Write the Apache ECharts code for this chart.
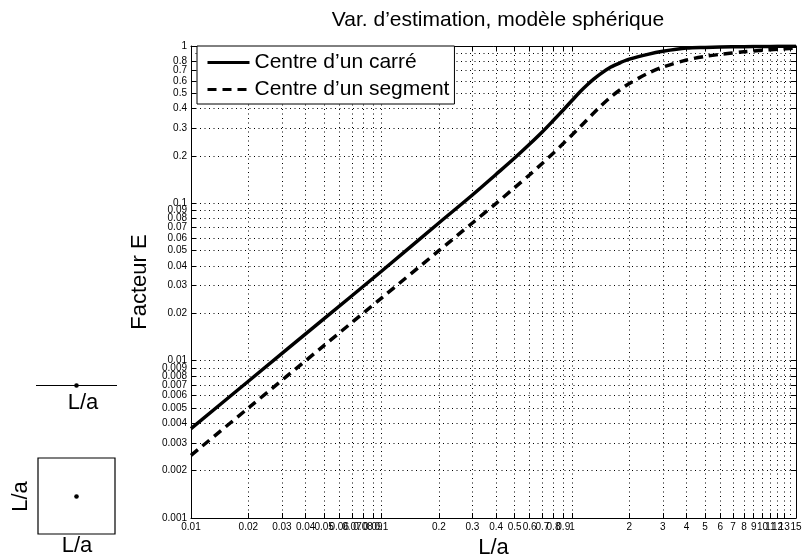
<!DOCTYPE html>
<html>
<head>
<meta charset="utf-8">
<script src="https://cdn.jsdelivr.net/npm/echarts@6/dist/echarts.min.js"></script>
<style>
  html, body { margin: 0; padding: 0; background: #fff; }
  #main { width: 804px; height: 559px; }
</style>
</head>
<body>
<div id="main"></div>
<script>
// valeurs (L/a -> facteur E)
var xVals = [0.01, 0.02, 0.05, 0.1, 0.2, 0.3, 0.4, 0.5, 0.6, 0.7, 0.8, 0.9, 1, 1.1, 1.2, 1.3, 1.4, 1.6, 1.8, 2, 2.5, 3, 4, 5, 6, 8, 10, 12, 15];
var carre = [0.0037, 0.0074, 0.0185, 0.037, 0.075, 0.113, 0.153, 0.194, 0.238, 0.285, 0.337, 0.392, 0.45, 0.51, 0.565, 0.615, 0.66, 0.735, 0.785, 0.825, 0.885, 0.925, 0.97, 0.98, 0.985, 0.99, 0.993, 0.995, 0.996];
var segment = [0.0025, 0.005, 0.0125, 0.025, 0.05, 0.075, 0.1, 0.126, 0.152, 0.18, 0.209, 0.24, 0.272, 0.305, 0.34, 0.375, 0.41, 0.475, 0.53, 0.578, 0.67, 0.735, 0.815, 0.86, 0.885, 0.92, 0.94, 0.955, 0.968];

// graduations (echelle log)
var xTicks = [0.01, 0.02, 0.03, 0.04, 0.05, 0.06, 0.07, 0.08, 0.09,
              0.1, 0.2, 0.3, 0.4, 0.5, 0.6, 0.7, 0.8, 0.9,
              1, 2, 3, 4, 5, 6, 7, 8, 9, 10, 11, 12, 13, 14, 15];
var yTicks = [0.001, 0.002, 0.003, 0.004, 0.005, 0.006, 0.007, 0.008, 0.009,
              0.01, 0.02, 0.03, 0.04, 0.05, 0.06, 0.07, 0.08, 0.09,
              0.1, 0.2, 0.3, 0.4, 0.5, 0.6, 0.7, 0.8, 0.9, 1];

var FONT = 'Liberation Sans, Arial, Helvetica, sans-serif';
var lg = function (v) { return Math.log10(v); };
var fmt = function (v) { return String(parseFloat(Math.pow(10, v).toPrecision(3))); };

var xT = xTicks.map(lg);
var yT = yTicks.map(lg);

function toPts(ys) {
  return xVals.map(function (x, i) { return [lg(x), lg(ys[i])]; });
}

var myChart = echarts.init(document.getElementById('main'), null, { renderer: 'canvas' });

var tickStyle = { show: true, inside: true, length: 5, lineStyle: { color: '#000', width: 1 } };
var lineAx = { show: true, onZero: false, lineStyle: { color: '#000', width: 1 } };

var option = {
  animation: false,
  backgroundColor: '#fff',
  title: {
    text: 'Var. d\u2019estimation, modèle sphérique',
    left: 493,
    textAlign: 'center',
    top: 5,
    textStyle: { fontFamily: FONT, fontSize: 21, fontWeight: 'normal', color: '#000' }
  },
  legend: {
    orient: 'vertical',
    left: 197,
    top: 46,
    padding: [6, 5, 4, 9],
    itemGap: 6,
    itemWidth: 42,
    itemHeight: 14,
    backgroundColor: '#fff',
    borderColor: '#000',
    borderWidth: 1,
    selectedMode: false,
    itemStyle: { opacity: 0 },
    lineStyle: { width: 3 },
    textStyle: { fontFamily: FONT, fontSize: 21, color: '#000' },
    data: ['Centre d\u2019un carré', 'Centre d\u2019un segment']
  },
  grid: {
    left: 191, right: 8, top: 46, bottom: 41,
    containLabel: false,
    outerBoundsMode: 'none'
  },
  xAxis: [{
    type: 'value',
    min: lg(0.01), max: lg(15),
    name: 'L/a',
    nameLocation: 'middle',
    nameGap: 18,
    nameTextStyle: { fontFamily: FONT, fontSize: 22, color: '#000' },
    axisLine: lineAx,
    axisTick: Object.assign({ customValues: xT }, tickStyle),
    axisLabel: { show: true, customValues: xT, formatter: fmt, showMinLabel: true, showMaxLabel: true, hideOverlap: false, margin: 4, fontFamily: FONT, fontSize: 10, color: '#000' },
    splitLine: { show: true, lineStyle: { color: '#000', width: 1, type: [1, 3.5] } }
  }, {
    type: 'value',
    position: 'top',
    min: lg(0.01), max: lg(15),
    axisLine: lineAx,
    axisTick: Object.assign({ customValues: xT }, tickStyle),
    axisLabel: { show: false },
    splitLine: { show: false }
  }],
  yAxis: [{
    type: 'value',
    position: 'left',
    min: lg(0.001), max: lg(1),
    name: 'Facteur E',
    nameLocation: 'middle',
    nameGap: 26,
    nameTextStyle: { fontFamily: FONT, fontSize: 22, color: '#000' },
    axisLine: lineAx,
    axisTick: Object.assign({ customValues: yT }, tickStyle),
    axisLabel: { show: true, customValues: yT, formatter: fmt, showMinLabel: true, showMaxLabel: true, hideOverlap: false, margin: 4, fontFamily: FONT, fontSize: 10, color: '#000' },
    splitLine: { show: true, lineStyle: { color: '#000', width: 1, type: [1, 3.5] } }
  }, {
    type: 'value',
    position: 'right',
    min: lg(0.001), max: lg(1),
    axisLine: lineAx,
    axisTick: Object.assign({ customValues: yT }, tickStyle),
    axisLabel: { show: false },
    splitLine: { show: false }
  }],
  series: [
    {
      name: 'Centre d\u2019un carré',
      type: 'line',
      symbol: 'none',
      smooth: 0.3,
      xAxisIndex: 0, yAxisIndex: 0,
      lineStyle: { color: '#000', width: 3.5 },
      itemStyle: { color: '#000' },
      data: toPts(carre)
    },
    {
      name: 'Centre d\u2019un segment',
      type: 'line',
      symbol: 'none',
      smooth: 0.3,
      xAxisIndex: 0, yAxisIndex: 0,
      lineStyle: { color: '#000', width: 3.5, type: [9, 6] },
      itemStyle: { color: '#000' },
      data: toPts(segment)
    }
  ],
  // petits schemas a gauche (segment et carre)
  graphic: [
    { type: 'line', shape: { x1: 36, y1: 385.5, x2: 117, y2: 385.5 }, style: { stroke: '#000', lineWidth: 1 } },
    { type: 'circle', shape: { cx: 76.5, cy: 385.5, r: 2.3 }, style: { fill: '#000' } },
    { type: 'text', x: 83, y: 403, style: { text: 'L/a', font: '22px ' + FONT, fill: '#000', textAlign: 'center', textVerticalAlign: 'middle' } },
    { type: 'rect', shape: { x: 38, y: 458, width: 77, height: 76 }, style: { fill: 'none', stroke: '#000', lineWidth: 1.2 } },
    { type: 'circle', shape: { cx: 76.5, cy: 496.5, r: 2.3 }, style: { fill: '#000' } },
    { type: 'text', x: 20.5, y: 496.5, rotation: Math.PI / 2, style: { text: 'L/a', font: '22px ' + FONT, fill: '#000', textAlign: 'center', textVerticalAlign: 'middle' } },
    { type: 'text', x: 77, y: 546, style: { text: 'L/a', font: '22px ' + FONT, fill: '#000', textAlign: 'center', textVerticalAlign: 'middle' } }
  ]
};

myChart.setOption(option);
</script>
</body>
</html>
